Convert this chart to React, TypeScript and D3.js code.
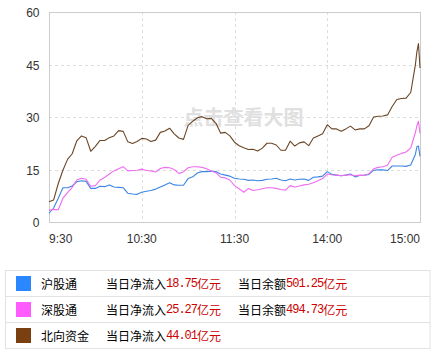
import React from "react";
import * as d3 from "d3";

const times = [
  "09:30","09:33","09:36","09:39","09:42","09:45","09:48","09:51","09:54","09:57",
  "10:00","10:03","10:06","10:09","10:12","10:15","10:18","10:21","10:24","10:27",
  "10:30","10:33","10:36","10:39","10:42","10:45","10:48","10:51","10:54","10:57",
  "11:00","11:03","11:06","11:09","11:12","11:15","11:18","11:21","11:24","11:27",
  "11:30",
  "13:03","13:06","13:09","13:12","13:15","13:18","13:21","13:24","13:27",
  "13:30","13:33","13:36","13:39","13:42","13:45","13:48","13:51","13:54","13:57",
  "14:00","14:03","14:06","14:09","14:12","14:15","14:18","14:21","14:24","14:27",
  "14:30","14:33","14:36","14:39","14:42","14:45","14:48","14:51","14:54","14:57",
  "14:58","14:59","15:00",
];

const northValues = [5.8,6.3,11,14.8,17.9,19.5,23.2,24.6,24.1,20.2, 21.6,23.3,23.3,24.1,24.6,26.1,25.9,22.9,22.4,23, 23.9,23.7,23,23.4,25.6,26,26.8,25.2,24,23.6, 27.6,28.8,29.8,30.1,29.5,29.6,28.2,25.4,25.6,24.6, 22.8, 21.8,21.2,20.7,20.8,20.3,21.1,22.5,22.5,22, 20.5,20.5,23.1,21.7,22.6,22.9,21.8,24,24.6,25.2, 27.8,26.6,26.6,25.9,26.6,27.4,26.3,26.6,26.6,27.5, 30,30.2,30.3,30.6,33,35,35.3,35.4,37,44.9, 48.7,51,44.01];

const shValues = [2.5,4,6.8,9.8,9.8,10.3,11.5,11.8,11.6,9.6, 9.6,10.2,10.1,10.6,10,9.9,9.8,8.2,8,7.9, 8.5,8.8,9,9.4,10,10.6,11.2,10.6,10.5,10.5, 12.4,12.9,14,14.4,14.4,14.5,14.4,13.7,13.4,13.1, 12.5, 12.3,12.2,11.9,12,11.8,11.9,12.2,12.3,12.5, 12,11.8,12.3,12,12.2,12.3,11.9,12.8,12.9,13.1, 14.4,13.6,13.4,13.2,13.4,13.7,12.9,13.3,13.4,13.6, 14.8,14.9,14.9,14.7,16,16,16,15.9,16.3,19.3, 21.5,21.7,18.75];

const szValues = [3.4,3.6,3.5,6.8,8.4,9.9,12,12.5,12.2,10.2, 10.4,12,12.7,13.7,14.6,15.2,15.8,14.6,14.7,14.8, 15.1,14.7,14.6,14.3,15.3,15.6,15.5,15,13.9,14.3, 15.5,15.8,15.8,15.6,15.2,14.6,14.1,12.8,12.6,12, 10.4, 9.5,8.5,9.6,9,9.2,9.5,9.8,9.8,9.6, 9.3,9.1,10.4,10,10.3,10.6,10.8,11.2,11.8,12.4, 13.7,13.5,13.4,13.2,13.4,13.5,13.2,13.4,13.3,13.8, 15.2,15.6,15.8,16.2,18.5,19.1,19.6,20,21.2,25.5, 27.5,28.8,25.27];

const yTicks = [0, 15, 30, 45, 60];
const xTickLabels = ["9:30", "10:30", "11:30", "14:00", "15:00"];
const xTickTimes = ["09:30", "10:30", "11:30", "14:00", "15:00"];

const legendNames = ["沪股通", "深股通", "北向资金"];
const legendInflow = ["18.75", "25.27", "44.01"];
const legendBalance = ["501.25", "494.73", null];
const lineColors = ["#3b86e4", "#f06cf0", "#6b4626"];
const swatchColors = ["#2b87ff", "#ff5cff", "#7a400f"];

// trading-minute index (9:30 -> 0, 11:30/13:00 -> 120, 15:00 -> 240)
function tradeIdx(t: string): number {
  const [h, m] = t.split(":").map(Number);
  const mins = h * 60 + m;
  return mins <= 690 ? mins - 570 : mins - 780 + 120;
}

const W = 432, H = 351;
const L = 49, R = 420, T = 12, B = 222;

export default function App() {
  const x = d3.scaleLinear().domain([0, 240]).range([L, R]);
  const y = d3.scaleLinear().domain([0, 60]).range([B, T]);
  const series = [shValues, szValues, northValues];
  const line = d3
    .line<number>()
    .x((_, i) => x(tradeIdx(times[i])))
    .y((d) => y(d));

  const font = "'Liberation Sans', Arial, sans-serif";
  const cjk = "'Noto Sans CJK SC', sans-serif";
  const rowTop = [270.5, 296.5, 322.5];
  const rowH = 26;

  return (
    <svg
      width={W}
      height={H}
      style={{ position: "absolute", left: 0, top: 0, background: "#fff" }}
    >
      <rect x={0} y={0} width={W} height={H} fill="#fff" />
      {/* grid */}
      {yTicks.filter((v) => v > 0 && v < 60).map((v) => (
        <line key={"gy" + v} x1={L} x2={R} y1={Math.round(y(v)) + 0.5} y2={Math.round(y(v)) + 0.5}
          stroke="#dddddd" strokeDasharray="3,3" />
      ))}
      {xTickTimes.slice(1, 4).map((t) => (
        <line key={"gx" + t} x1={Math.round(x(tradeIdx(t))) + 0.5} x2={Math.round(x(tradeIdx(t))) + 0.5}
          y1={T} y2={B} stroke="#dddddd" strokeDasharray="3,3" />
      ))}
      {/* frame */}
      <rect x={L + 0.5} y={T + 0.5} width={R - L} height={B - T} fill="none" stroke="#cccccc" />
      {/* watermark */}
      <text x={243.5} y={125} textAnchor="middle" fontFamily={cjk} fontWeight="bold" fontSize={20}
        fill="#e0e0e0">点击查看大图</text>
      {/* lines */}
      {series.map((s, i) => (
        <path key={"l" + i} d={line(s) || ""} fill="none" stroke={lineColors[i]} strokeWidth={1.1}
          strokeLinejoin="round" />
      ))}
      {/* y labels */}
      {yTicks.map((v) => (
        <text key={"yl" + v} x={39.5} y={y(v) + 5} textAnchor="end" fontFamily={font} fontSize={12}
          fill="#333">{v}</text>
      ))}
      {/* x labels */}
      {xTickLabels.map((lab, i) => (
        <text key={"xl" + lab} x={x(tradeIdx(xTickTimes[i]))} y={243}
          textAnchor={i === 0 ? "start" : i === xTickLabels.length - 1 ? "end" : "middle"}
          fontFamily={font} fontSize={12} fill="#333">{lab}</text>
      ))}
      {/* legend table */}
      <rect x={5.5} y={270.5} width={424.5} height={78} fill="none" stroke="#e2e2e2" />
      <line x1={5.5} x2={430} y1={296.5} y2={296.5} stroke="#e2e2e2" />
      <line x1={5.5} x2={430} y1={322.5} y2={322.5} stroke="#e2e2e2" />
      {legendNames.map((name, i) => {
        const cy = rowTop[i] + rowH / 2;
        return (
          <g key={"lg" + i}>
            <rect x={16} y={cy - 7.5} width={15} height={15} fill={swatchColors[i]} />
            <text x={41} y={cy} dominantBaseline="central" fontFamily={cjk} fontSize={12} fill="#000">{name}</text>
            <text x={106} y={cy} dominantBaseline="central" fontFamily={cjk} fontSize={12} fill="#000">当日净流入</text>
            <text x={166} y={cy + 0.5} dominantBaseline="central" fontFamily="'Liberation Mono', monospace"
              fontSize={12} letterSpacing={-1} fill="#cc0000">{legendInflow[i]}</text>
            <text x={166 + legendInflow[i].length * 6.2} y={cy} dominantBaseline="central" fontFamily={cjk}
              fontSize={12} fill="#cc0000">亿元</text>
            {legendBalance[i] && (
              <>
                <text x={238} y={cy} dominantBaseline="central" fontFamily={cjk} fontSize={12} fill="#000">当日余额</text>
                <text x={286} y={cy + 0.5} dominantBaseline="central" fontFamily="'Liberation Mono', monospace"
                  fontSize={12} letterSpacing={-1} fill="#cc0000">{legendBalance[i]}</text>
                <text x={286 + (legendBalance[i] as string).length * 6.2} y={cy} dominantBaseline="central"
                  fontFamily={cjk} fontSize={12} fill="#cc0000">亿元</text>
              </>
            )}
          </g>
        );
      })}
    </svg>
  );
}
